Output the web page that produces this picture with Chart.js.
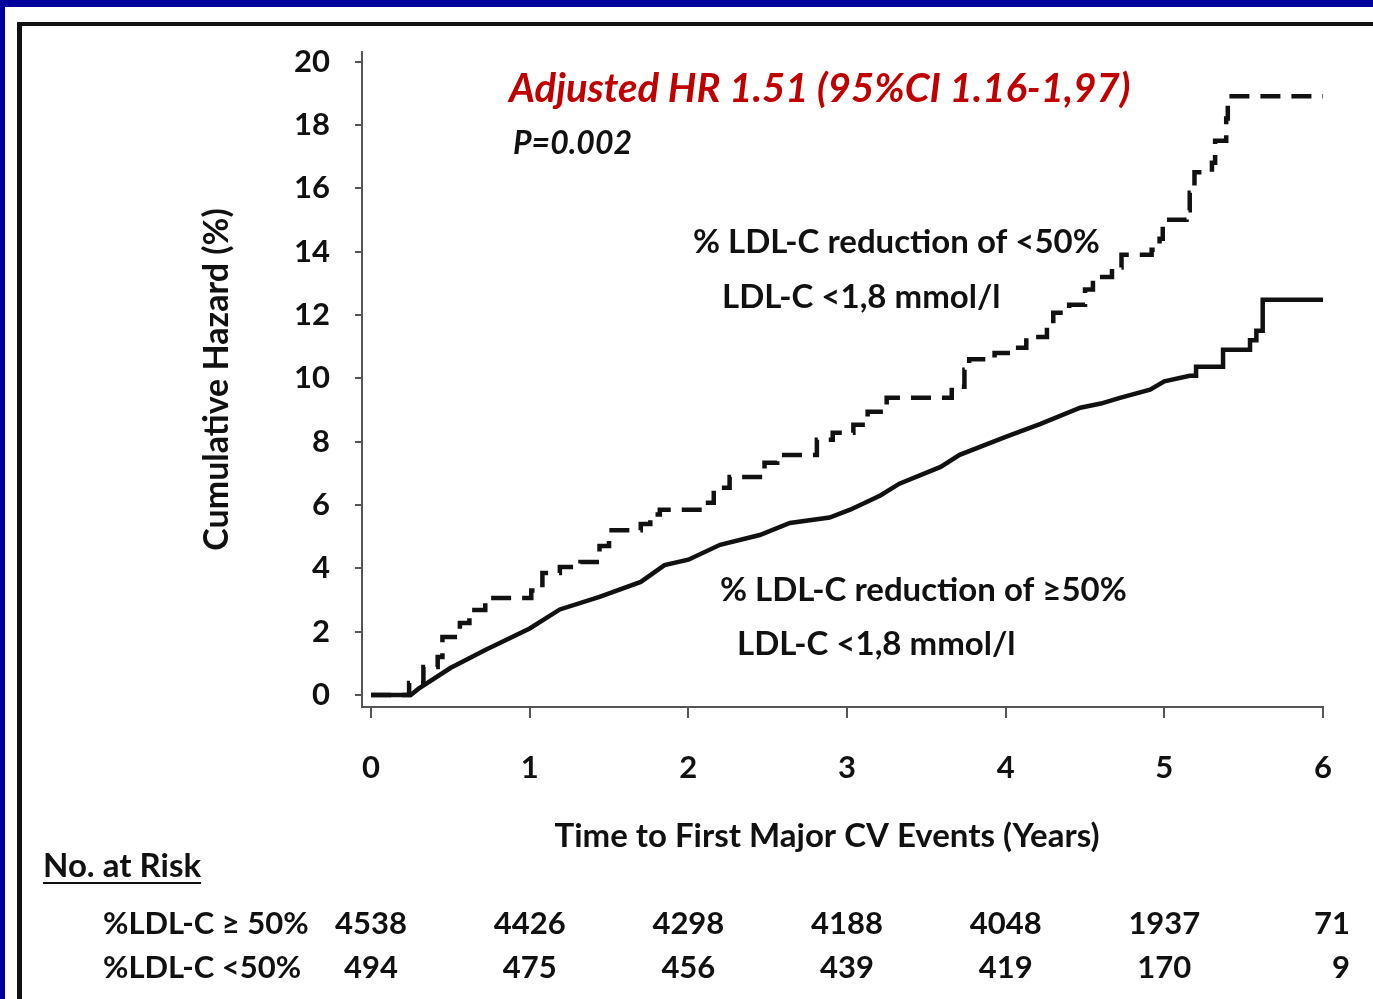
<!DOCTYPE html>
<html lang="en">
<head>
<meta charset="UTF-8">
<title>Cumulative Hazard</title>
<script src="https://cdn.jsdelivr.net/npm/chart.js"></script>
<style>
  html, body { margin: 0; padding: 0; background: #fff; }
  #wrap { position: relative; width: 1373px; height: 999px; overflow: hidden; }
  #blue { position: absolute; left: 0; top: 0; width: 1373px; height: 999px; box-sizing: border-box;
          border-top: 7px solid #00009c; border-left: 5px solid #00009c; }
  #frame { position: absolute; left: 17px; top: 22px; width: 1400px; height: 1000px;
           border-top: 4px solid #111; border-left: 5px solid #111; }
  canvas { position: absolute; left: 0; top: 0; }
</style>
</head>
<body>
<div id="wrap">
  <div id="blue"></div>
  <div id="frame"></div>
  <canvas id="chart" width="1373" height="999"></canvas>
</div>
<script>
  // axis ticks
  const years = [0, 1, 2, 3, 4, 5, 6];
  const hazardTicks = [0, 2, 4, 6, 8, 10, 12, 14, 16, 18, 20];

  // % LDL-C reduction <50% (dashed, step at each time)
  const lowTime = [0, 0.24, 0.33, 0.42, 0.45, 0.56, 0.62, 0.72, 1.01, 1.08, 1.19, 1.32, 1.44, 1.5, 1.7, 1.76, 1.82,
    2.07, 2.16, 2.26, 2.48, 2.56, 2.81, 2.91, 3.04, 3.13, 3.25, 3.66, 3.74, 3.77, 3.93, 4.06, 4.13, 4.26, 4.3,
    4.4, 4.5, 4.55, 4.67, 4.73, 4.92, 4.97, 4.99, 5.14, 5.16, 5.19, 5.3, 5.32, 5.39, 5.4, 6.0];
  const lowHazard = [0, 0.38, 0.88, 1.2, 1.83, 2.27, 2.68, 3.06, 3.3, 3.85, 4.04, 4.2, 4.7, 5.2, 5.4, 5.7, 5.85,
    6.07, 6.54, 6.88, 7.33, 7.58, 8.06, 8.28, 8.53, 8.94, 9.38, 9.73, 10.27, 10.6, 10.8, 10.96, 11.3, 11.63, 12.07,
    12.32, 12.8, 13.2, 13.5, 13.9, 14.06, 14.4, 15.0, 15.3, 15.86, 16.5, 16.8, 17.5, 18.2, 18.9, 18.9];

  // % LDL-C reduction >=50% (solid)
  const highTime = [0, 0.25, 0.3, 0.5, 0.72, 1.0, 1.19, 1.44, 1.7, 1.85, 2.0, 2.2, 2.45, 2.64, 2.89, 3.02, 3.21,
    3.33, 3.59, 3.71, 4.0, 4.22, 4.47, 4.6, 4.72, 4.91, 5.0, 5.16, 5.2, 5.2, 5.37, 5.37, 5.54, 5.54, 5.58, 5.58,
    5.62, 5.62, 6.0];
  const highHazard = [0, 0, 0.2, 0.85, 1.42, 2.1, 2.7, 3.1, 3.57, 4.1, 4.27, 4.74, 5.05, 5.43, 5.6, 5.85, 6.3,
    6.67, 7.2, 7.58, 8.15, 8.56, 9.07, 9.2, 9.38, 9.64, 9.9, 10.08, 10.08, 10.36, 10.36, 10.9, 10.9, 11.2, 11.2, 11.5,
    11.5, 12.48, 12.48];

  // numbers at risk
  const riskLabels = ['%LDL-C \u2265 50%', '%LDL-C <50%'];
  const riskHigh = [4538, 4426, 4298, 4188, 4048, 1937, 71];
  const riskLow = [494, 475, 456, 439, 419, 170, 9];

  const FONT = 'Lato';
  const INK = '#111';

  const textPlugin = {
    id: 'texts',
    afterDraw(chart) {
      const ctx = chart.ctx;
      const xs = chart.scales.x;
      ctx.save();
      ctx.textBaseline = 'middle';
      ctx.textAlign = 'left';

      ctx.fillStyle = '#c00000';
      ctx.font = 'italic bold 40px ' + FONT;
      ctx.fillText('Adjusted HR 1.51 (95%CI 1.16-1,97)', 509, 89);

      ctx.fillStyle = INK;
      ctx.font = 'italic bold 32px ' + FONT;
      ctx.fillText('P=0.002', 513, 144);

      ctx.font = 'bold 33px ' + FONT;
      ctx.fillText('% LDL-C reduction of <50%', 693, 242);
      ctx.fillText('LDL-C <1,8 mmol/l', 722, 297);
      ctx.fillText('% LDL-C reduction of \u226550%', 720, 590);
      ctx.fillText('LDL-C <1,8 mmol/l', 737, 644);

      // x axis title, sits a little left of the plot centre
      ctx.textAlign = 'center';
      ctx.fillText('Time to First Major CV Events (Years)', 827, 836);
      ctx.textAlign = 'left';

      // No. at Risk
      ctx.fillText('No. at Risk', 43, 866);
      const w = ctx.measureText('No. at Risk').width;
      ctx.fillRect(43, 882, w, 2);

      ctx.font = 'bold 31px ' + FONT;
      ctx.fillText(riskLabels[0], 103, 924);
      ctx.fillText(riskLabels[1], 103, 968);
      [riskHigh, riskLow].forEach((row, r) => {
        const y = r === 0 ? 924 : 968;
        row.forEach((n, i) => {
          if (i === row.length - 1) {
            ctx.textAlign = 'right';
            ctx.fillText(String(n), 1350, y);
          } else {
            ctx.textAlign = 'center';
            ctx.fillText(String(n), xs.getPixelForValue(years[i]), y);
          }
        });
      });
      ctx.restore();
    }
  };

  new Chart(document.getElementById('chart'), {
    type: 'line',
    data: {
      datasets: [
        {
          label: '% LDL-C reduction of <50%',
          data: lowTime.map((t, i) => ({ x: t, y: lowHazard[i] })),
          stepped: 'before',
          borderColor: INK,
          borderWidth: 4.5,
          borderDash: [20, 11],
          pointRadius: 0,
          fill: false
        },
        {
          label: '% LDL-C reduction of \u226550%',
          data: highTime.map((t, i) => ({ x: t, y: highHazard[i] })),
          borderColor: INK,
          borderWidth: 4.5,
          tension: 0,
          pointRadius: 0,
          fill: false
        }
      ]
    },
    options: {
      responsive: false,
      animation: false,
      layout: { padding: { left: 195, top: 52, right: 50, bottom: 141 } },
      plugins: { legend: { display: false }, tooltip: { enabled: false } },
      scales: {
        x: {
          type: 'linear',
          min: -0.057,
          max: 6,
          afterBuildTicks: s => { s.ticks = years.map(v => ({ value: v })); },
          afterFit: s => { s.height = 151; },
          grid: { drawOnChartArea: false, drawTicks: true, tickLength: 11, color: '#555', lineWidth: 2 },
          border: { color: '#555', width: 2 },
          ticks: { color: INK, font: { family: FONT, size: 31, weight: 'bold' }, padding: 31, maxRotation: 0 },
          title: { display: false }
        },
        y: {
          min: -0.38,
          max: 20.3,
          afterBuildTicks: s => { s.ticks = hazardTicks.map(v => ({ value: v })); },
          afterFit: s => { s.width = 167; },
          grid: { drawOnChartArea: false, drawTicks: true, tickLength: 7, color: '#555', lineWidth: 2 },
          border: { color: '#555', width: 2 },
          ticks: { color: INK, font: { family: FONT, size: 31, weight: 'bold' }, padding: 25 },
          title: {
            display: true,
            text: 'Cumulative Hazard (%)',
            color: INK,
            font: { family: FONT, size: 34, weight: 'bold' },
            padding: { top: 2, bottom: 0 }
          }
        }
      }
    },
    plugins: [textPlugin]
  });
</script>
</body>
</html>
